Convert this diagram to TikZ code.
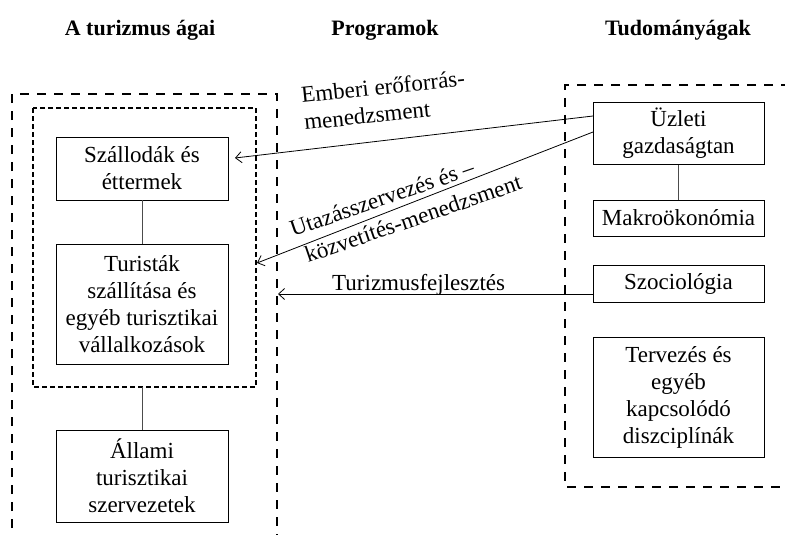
\documentclass[tikz,border=0pt]{standalone}
\usepackage{fontspec}
\setmainfont{Liberation Serif}
\usetikzlibrary{arrows.meta}
\begin{document}
\begin{tikzpicture}[x=1pt,y=-1pt,
  every node/.style={font=\fontsize{23}{27}\selectfont},
  box/.style={draw, line width=0.9pt, align=center, inner sep=0pt},
  head/.style={font=\fontsize{22}{26}\selectfont\bfseries},
  bigdash/.style={line width=2.4pt, dash pattern=on 9pt off 8pt},
  smalldash/.style={line width=2.4pt, dash pattern=on 5pt off 3pt},
  link/.style={draw=black!70, line width=0.9pt},
  prog/.style={line width=0.8pt, -{Straight Barb[length=6pt,width=11pt]}},
  lbl/.style={inner sep=0pt, anchor=base west}]
\useasboundingbox (0,0) rectangle (785,535);

% column headings
\node[head] (h1) at (140,30) {A turizmus ágai};
\node[head] (h2) at (385,30) {Programok};
\node[head] (h3) at (678,30) {Tudományágak};

% branches of tourism
\draw[bigdash] (12,545) -- (12,94) -- (277,94) -- (277,545);
\draw[smalldash] (33,108) rectangle (256,387);
\coordinate (inbot) at (142,387);

\node[box, minimum width=172pt, minimum height=63pt] (szal) at (142,168.5) {Szállodák és\\éttermek};
\node[box, minimum width=172pt, minimum height=120pt] (tur) at (142,304) {Turisták\\szállítása és\\egyéb turisztikai\\vállalkozások};
\node[box, minimum width=172pt, minimum height=92pt] (all) at (142,476) {Állami\\turisztikai\\szervezetek};

\draw[link] (szal.south) -- (tur.north);
\draw[link] (inbot) -- (all.north);

% disciplines
\draw[bigdash] (790,85) -- (565,85) -- (565,487) -- (790,487);

\node[box, minimum width=171pt, minimum height=62pt] (uzl) at (678.5,133.5) {Üzleti\\gazdaságtan};
\node[box, minimum width=171pt, minimum height=36pt] (makro) at (678.5,218) {Makroökonómia};
\node[box, minimum width=171pt, minimum height=37pt] (szoc) at (678.5,283.5) {Szociológia};
\node[box, minimum width=171pt, minimum height=120pt] (terv) at (678.5,397) {Tervezés és\\egyéb\\kapcsolódó\\diszciplínák};

\draw[link] (uzl.south) -- (makro.north);

% programmes linking disciplines and branches
\coordinate (a1s) at (593,116);
\coordinate (a1e) at (235,158);
\coordinate (a2s) at (593,132);
\coordinate (a2e) at (257,263);
\coordinate (a3s) at (593,294);
\coordinate (a3e) at (278,294);
\draw[prog] (a1s) -- (a1e);
\draw[prog] (a2s) -- (a2e);
\draw[prog] (a3s) -- (a3e);

\node[lbl, rotate=6] (l1a) at (302,103) {Emberi erőforrás-};
\node[lbl, rotate=6] (l1b) at (305,130) {menedzsment};
\node[lbl, rotate=19] (l2a) at (293,237) {Utazásszervezés és –};
\node[lbl, rotate=19] (l2b) at (308,263) {közvetítés-menedzsment};
\node[lbl] (l3) at (332,290) {Turizmusfejlesztés};
\end{tikzpicture}
\end{document}
